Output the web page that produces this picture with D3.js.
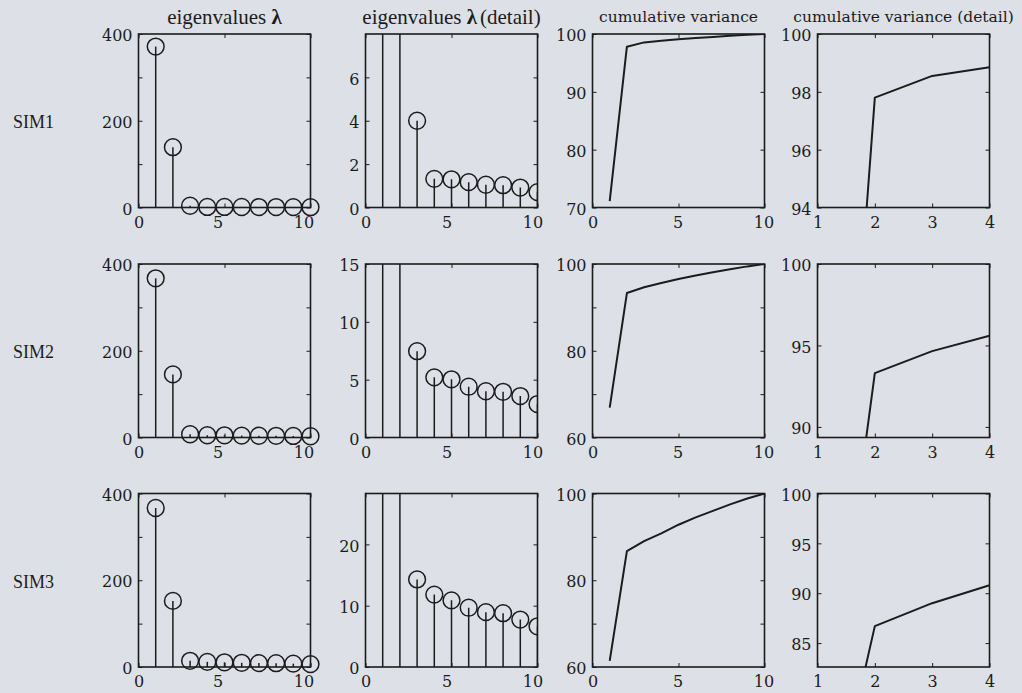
<!DOCTYPE html>
<html>
<head>
<meta charset="utf-8">
<script src="https://cdn.jsdelivr.net/npm/d3@7"></script>
<style>
  html, body { margin: 0; padding: 0; background: #dde0e6; }
  svg { display: block; }
</style>
</head>
<body>
<svg id="chart" width="1022" height="693"></svg>
<script>
// ---- data -------------------------------------------------------------
const components = [1, 2, 3, 4, 5, 6, 7, 8, 9, 10];
const simNames = ["SIM1", "SIM2", "SIM3"];

// eigenvalues lambda per simulation
const eigenSim1 = [371, 139, 4.0, 1.32, 1.30, 1.17, 1.05, 1.03, 0.92, 0.71];
const eigenSim2 = [367, 145.5, 7.46, 5.20, 5.03, 4.39, 4.00, 3.95, 3.58, 2.89];
const eigenSim3 = [366.6, 152.4, 14.28, 11.81, 10.87, 9.67, 8.95, 8.78, 7.74, 6.64];

// cumulative variance (%) per simulation
const cumSim1 = [71.1, 97.8, 98.55, 98.85, 99.1, 99.3, 99.5, 99.7, 99.85, 100];
const cumSim2 = [66.9, 93.3, 94.65, 95.6, 96.55, 97.35, 98.1, 98.8, 99.45, 100];
const cumSim3 = [61.4, 86.7, 89.0, 90.8, 92.8, 94.5, 96.0, 97.5, 98.85, 100];

// axis ticks and labels
const eigenXTicks = [0, 5, 10];
const eigenYTicks = [0, 100, 200, 300, 400];
const eigenYLabels = [0, 200, 400];
const detailYMax = [8, 15, 28.3];
const detailYTicks = [[0, 2, 4, 6], [0, 5, 10, 15], [0, 10, 20]];
const cumYDomain = [[70, 100], [60, 100], [60, 100]];
const cumYTicks = [[70, 80, 90, 100], [60, 70, 80, 90, 100], [60, 70, 80, 90, 100]];
const cumYLabels = [[70, 80, 90, 100], [60, 80, 100], [60, 80, 100]];
const cumDetailXTicks = [1, 2, 3, 4];
const cumDetailYMin = [94, 89.35, 82.6];
const cumDetailYTicks = [[94, 96, 98, 100], [90, 95, 100], [85, 90, 95, 100]];

const eigen = [eigenSim1, eigenSim2, eigenSim3];
const cum = [cumSim1, cumSim2, cumSim3];

// ---- layout -----------------------------------------------------------
const colLeft = [138.5, 365.5, 592.5, 817.5];
const colW = 172;
const rowTop = [34, 264, 493.5];
const rowH = 173.5;
const xLabelShift = [-7, -5, -1, 0];
const ink = "#1c1c1c";
const labelFont = "DejaVu Serif";

const svg = d3.select("#chart");
svg.append("rect").attr("width", 1022).attr("height", 693).attr("fill", "#dde0e6");

let clipId = 0;

function styleAxis(a) {
  a.attr("font-family", labelFont).attr("font-size", 16);
  a.select(".domain").remove();
  a.selectAll(".tick line").attr("stroke", ink);
  a.selectAll(".tick text").attr("fill", ink);
}

function panel(col, row, xDomain, yDomain, xTicks, yTicks, yLabels, clip) {
  const x0 = colLeft[col], y0 = rowTop[row];
  const g = svg.append("g").attr("transform", `translate(${x0},${y0})`);
  const x = d3.scaleLinear().domain(xDomain).range([0, colW]);
  const y = d3.scaleLinear().domain(yDomain).range([rowH, 0]);
  const fmt = labels => d => (labels.includes(d) ? String(d) : "");

  // ticks point inwards on all four sides
  g.append("g").attr("transform", `translate(0,${rowH})`)
    .call(d3.axisBottom(x).tickValues(xTicks).tickSize(-4).tickPadding(9).tickFormat(d3.format("d")))
    .call(styleAxis)
    .call(a => a.selectAll(".tick text")
      .attr("dx", d => (d === xDomain[0] ? 0 : xLabelShift[col])));
  g.append("g")
    .call(d3.axisTop(x).tickValues(xTicks).tickSize(-4).tickFormat(""))
    .call(styleAxis);
  g.append("g")
    .call(d3.axisLeft(y).tickValues(yTicks).tickSize(-4).tickPadding(6).tickFormat(fmt(yLabels)))
    .call(styleAxis)
    .call(a => a.selectAll(".tick text").attr("dy", "0.42em"));
  g.append("g").attr("transform", `translate(${colW},0)`)
    .call(d3.axisRight(y).tickValues(yTicks).tickSize(-4).tickFormat(""))
    .call(styleAxis);

  const plot = g.append("g");
  if (clip) {
    const id = "clip" + (clipId++);
    g.append("clipPath").attr("id", id)
      .append("rect").attr("width", colW).attr("height", rowH);
    plot.attr("clip-path", `url(#${id})`);
  }

  g.append("rect").attr("width", colW).attr("height", rowH)
    .attr("fill", "none").attr("stroke", ink).attr("stroke-width", 1.6);
  return { g, plot, x, y };
}

function stems(p, values) {
  const pts = components.map((c, i) => ({ c, v: values[i] }));
  p.plot.selectAll("line.stem").data(pts).join("line")
    .attr("class", "stem")
    .attr("x1", d => p.x(d.c)).attr("x2", d => p.x(d.c))
    .attr("y1", p.y(0)).attr("y2", d => p.y(d.v))
    .attr("stroke", ink).attr("stroke-width", 1.5);
  p.plot.selectAll("circle").data(pts).join("circle")
    .attr("cx", d => p.x(d.c)).attr("cy", d => p.y(d.v))
    .attr("r", 8.4).attr("fill", "none")
    .attr("stroke", ink).attr("stroke-width", 1.5);
}

function curve(p, values) {
  const line = d3.line().x((d, i) => p.x(components[i])).y(d => p.y(d));
  p.plot.append("path").datum(values)
    .attr("d", line).attr("fill", "none")
    .attr("stroke", ink).attr("stroke-width", 2).attr("stroke-linejoin", "round");
}

for (let r = 0; r < 3; r++) {
  // eigenvalues
  const p1 = panel(0, r, [0, 10], [0, 400], eigenXTicks, eigenYTicks, eigenYLabels, false);
  stems(p1, eigen[r]);
  // eigenvalues (detail)
  const p2 = panel(1, r, [0, 10], [0, detailYMax[r]], eigenXTicks, detailYTicks[r], detailYTicks[r], true);
  stems(p2, eigen[r]);
  // cumulative variance
  const p3 = panel(2, r, [0, 10], cumYDomain[r], eigenXTicks, cumYTicks[r], cumYLabels[r], true);
  curve(p3, cum[r]);
  // cumulative variance (detail)
  const p4 = panel(3, r, [1, 4], [cumDetailYMin[r], 100], cumDetailXTicks, cumDetailYTicks[r], cumDetailYTicks[r], true);
  curve(p4, cum[r]);

  svg.append("text")
    .attr("x", 13).attr("y", rowTop[r] + rowH / 2 + 7.5)
    .attr("font-family", "Liberation Serif, serif").attr("font-size", 18)
    .attr("fill", ink).text(simNames[r]);
}

// column titles
function eigenTitle(col, suffix) {
  const t = svg.append("text")
    .attr("x", colLeft[col] + colW / 2).attr("y", 24)
    .attr("text-anchor", "middle")
    .attr("font-family", "Liberation Serif, serif").attr("font-size", 21)
    .attr("fill", ink);
  t.append("tspan").text("eigenvalues ");
  t.append("tspan").attr("font-weight", "bold").text("λ");
  if (suffix) t.append("tspan").attr("dx", 3).text(suffix);
}
eigenTitle(0, "");
eigenTitle(1, "(detail)");

["cumulative variance", "cumulative variance (detail)"].forEach((s, i) => {
  svg.append("text")
    .attr("x", colLeft[2 + i] + colW / 2).attr("y", 22)
    .attr("text-anchor", "middle")
    .attr("font-family", labelFont).attr("font-size", 15.5)
    .attr("fill", ink).text(s);
});
</script>
</body>
</html>
